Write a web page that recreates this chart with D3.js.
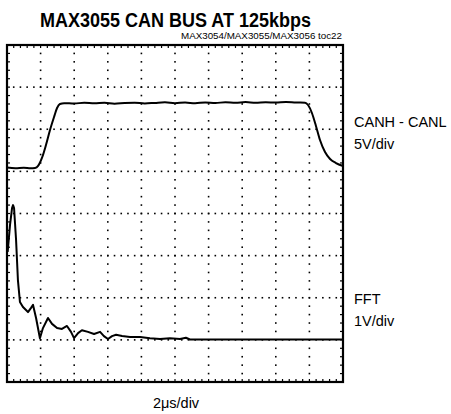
<!DOCTYPE html>
<html>
<head>
<meta charset="utf-8">
<script src="https://cdn.jsdelivr.net/npm/d3@7"></script>
<style>
  body { margin: 0; background: #fff; }
  text { font-family: "Liberation Sans", Arial, sans-serif; fill: #000; }
</style>
</head>
<body>
<div id="chart"></div>
<script>
// Screen: 10 divisions of 2us, 8 vertical divisions
var X_DIVS = 10, Y_DIVS = 8, MINOR = 5;
var US_PER_DIV = 2;

// CANH - CANL, 5V/div, reference level at division 5
var CAN_REF = 5, CAN_VDIV = 5;
var canT = [0, 0.5, 1.0, 1.4, 1.67, 1.85, 2.08, 2.32, 2.56, 2.8, 2.98, 3.15, 3.4,
            4.0, 4.6, 5.2, 5.8, 6.4, 7.0, 7.6, 8.2, 8.8, 9.4, 10.0, 10.6, 11.2,
            11.8, 12.4, 13.0, 13.6, 14.2, 14.8, 15.4, 16.0, 16.6, 17.2, 17.74,
            17.92, 18.15, 18.39, 18.63, 18.93, 19.23, 19.58, 20];
var canV = [0.45, 0.38, 0.44, 0.36, 0.4, 0.64, 1.59, 3.13, 4.91, 6.45, 7.52, 8.0, 8.1,
            8.05, 8.15, 8.08, 8.14, 8.04, 8.12, 8.16, 8.06, 8.13, 8.2, 8.1, 8.17, 8.09,
            8.18, 8.12, 8.2, 8.14, 8.22, 8.15, 8.2, 8.17, 8.24, 8.18, 8.16,
            7.88, 6.93, 5.39, 3.72, 2.3, 1.47, 0.99, 0.64];

// FFT, 1V/div, reference level at division 1
var FFT_REF = 1, FFT_VDIV = 1;
var fftT = [0.04, 0.18, 0.3, 0.36, 0.42, 0.54, 0.65, 0.77, 0.95, 1.25, 1.43, 1.55,
            1.73, 1.96, 2.14, 2.44, 2.68, 2.98, 3.27, 3.57, 3.81, 3.99, 4.23, 4.46,
            4.82, 5.18, 5.54, 5.77, 6.01, 6.25, 6.49, 6.85, 7.32, 7.92, 8.51, 9.11,
            9.7, 10.3, 10.65, 10.89, 12, 14, 16, 18, 20];
var fftV = [2.09, 2.73, 3.13, 3.2, 3.13, 2.37, 1.42, 0.9, 0.78, 0.66, 0.76, 0.83,
            0.52, 0.04, 0.28, 0.52, 0.38, 0.28, 0.26, 0.33, 0.19, 0.04, 0.16, 0.23,
            0.19, 0.14, 0.19, 0.09, 0.02, 0.09, 0.12, 0.09, 0.07, 0.07, 0.04, 0.02,
            0.04, 0.02, 0.05, 0.01, 0.01, 0.01, 0.01, 0.01, 0.01];

var W = 451, H = 414;
var pL = 7, pR = 343, pT = 45, pB = 382; // plot frame

var svg = d3.select("#chart").append("svg")
    .attr("width", W)
    .attr("height", H);

var x = d3.scaleLinear().domain([0, X_DIVS * US_PER_DIV]).range([pL, pR]);
var y = d3.scaleLinear().domain([0, Y_DIVS]).range([pB, pT]);

// graticule: dotted lines at major divisions, dots at minor steps
var dots = svg.append("g").attr("fill", "#000");
var minorX = d3.range(0, X_DIVS * MINOR + 1).map(function (i) { return i * US_PER_DIV / MINOR; });
var minorY = d3.range(0, Y_DIVS * MINOR + 1).map(function (i) { return i / MINOR; });

d3.range(1, Y_DIVS).forEach(function (d) {
    dots.selectAll(null)
        .data(minorX)
        .enter().append("rect")
        .attr("x", function (t) { return x(t) - 0.8; })
        .attr("y", y(d) - 0.8)
        .attr("width", 1.6).attr("height", 1.6);
});
d3.range(1, X_DIVS).forEach(function (d) {
    dots.selectAll(null)
        .data(minorY)
        .enter().append("rect")
        .attr("x", x(d * US_PER_DIV) - 0.8)
        .attr("y", function (v) { return y(v) - 0.8; })
        .attr("width", 1.6).attr("height", 1.6);
});

// edge ticks
var ticks = svg.append("g").attr("stroke", "#000").attr("stroke-width", 1.2);
ticks.selectAll(".tb").data(minorX).enter().append("line")
    .attr("x1", function (t) { return x(t); }).attr("x2", function (t) { return x(t); })
    .attr("y1", pB).attr("y2", pB - 3);
ticks.selectAll(".tt").data(minorX).enter().append("line")
    .attr("x1", function (t) { return x(t); }).attr("x2", function (t) { return x(t); })
    .attr("y1", pT).attr("y2", pT + 3);
ticks.selectAll(".tl").data(minorY).enter().append("line")
    .attr("y1", function (v) { return y(v); }).attr("y2", function (v) { return y(v); })
    .attr("x1", pL).attr("x2", pL + 3);
ticks.selectAll(".tr").data(minorY).enter().append("line")
    .attr("y1", function (v) { return y(v); }).attr("y2", function (v) { return y(v); })
    .attr("x1", pR).attr("x2", pR - 3);

// frame
svg.append("rect")
    .attr("x", pL).attr("y", pT)
    .attr("width", pR - pL).attr("height", pB - pT)
    .attr("fill", "none").attr("stroke", "#000").attr("stroke-width", 2.2);

// traces
var canLine = d3.line()
    .x(function (d, i) { return x(canT[i]); })
    .y(function (d) { return y(CAN_REF + d / CAN_VDIV); })
    .curve(d3.curveMonotoneX);
var fftLine = d3.line()
    .x(function (d, i) { return x(fftT[i]); })
    .y(function (d) { return y(FFT_REF + d / FFT_VDIV); });

svg.append("path").attr("d", canLine(canV))
    .attr("fill", "none").attr("stroke", "#000").attr("stroke-width", 2)
    .attr("stroke-linejoin", "round");
svg.append("path").attr("d", fftLine(fftV))
    .attr("fill", "none").attr("stroke", "#000").attr("stroke-width", 2)
    .attr("stroke-linejoin", "round");

// texts
svg.append("text").attr("x", 40).attr("y", 27)
    .attr("font-size", 19.5).attr("font-weight", "bold")
    .attr("textLength", 271).attr("lengthAdjust", "spacingAndGlyphs")
    .text("MAX3055 CAN BUS AT 125kbps");
svg.append("text").attr("x", 342).attr("y", 38.5)
    .attr("font-size", 9.5).attr("text-anchor", "end")
    .attr("textLength", 161).attr("lengthAdjust", "spacingAndGlyphs")
    .text("MAX3054/MAX3055/MAX3056 toc22");

var labels = [
    { t: "CANH - CANL", y: 127 },
    { t: "5V/div", y: 149 },
    { t: "FFT", y: 304 },
    { t: "1V/div", y: 326 }
];
svg.selectAll(".lab").data(labels).enter().append("text")
    .attr("x", 354).attr("y", function (d) { return d.y; })
    .attr("font-size", 14.5)
    .text(function (d) { return d.t; });

svg.append("text").attr("x", (pL + pR) / 2 + 1).attr("y", 408)
    .attr("font-size", 14.5).attr("text-anchor", "middle")
    .text("2μs/div");
</script>
</body>
</html>
